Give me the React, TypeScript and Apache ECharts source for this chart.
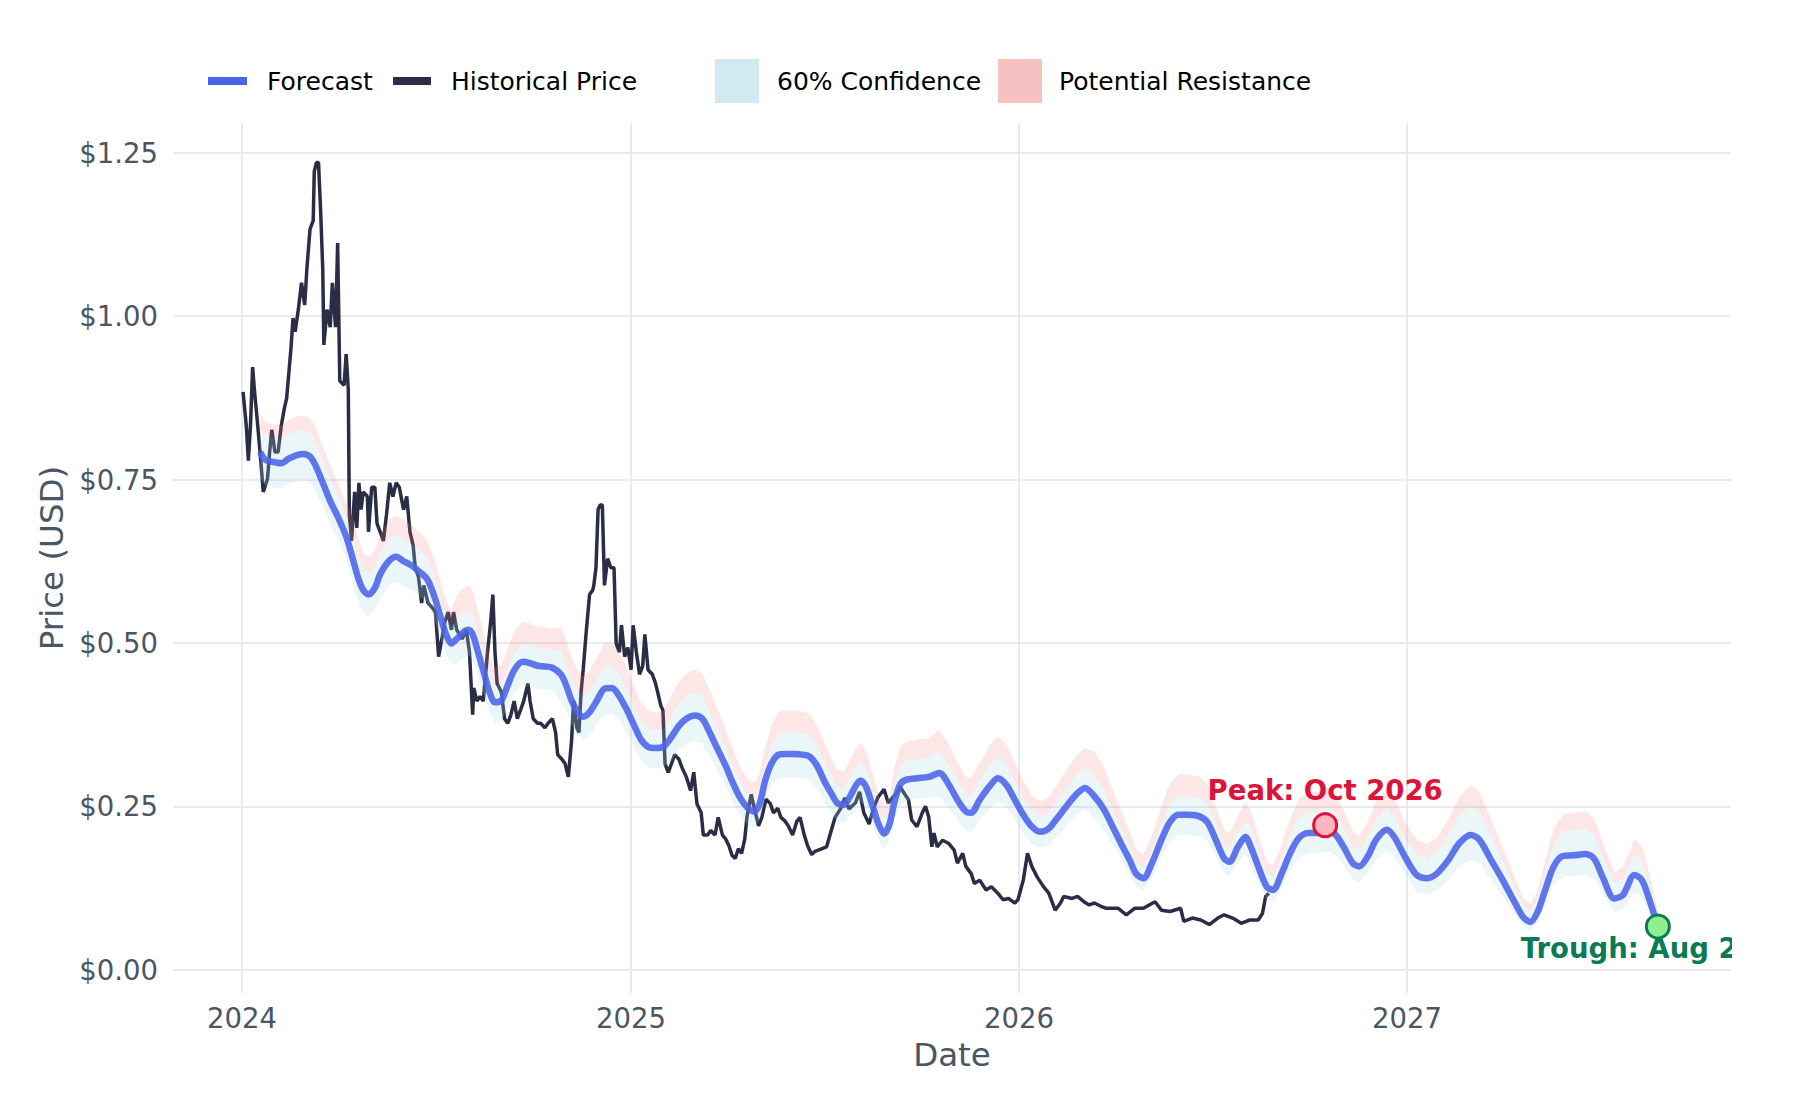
import React, { useEffect, useRef } from "react";
import * as echarts from "echarts";

// Day offsets are counted from 2024-01-01 (UTC)
const BASE_DATE = Date.UTC(2024, 0, 1);
const DAY_MS = 86400000;

const histDays = [
  1, 4, 6, 8, 10, 12, 14, 17, 20, 24, 26, 28, 31, 34, 37, 40, 42, 46, 48, 50, 53, 56, 59, 61, 64, 67, 68, 70, 72, 74, 76, 77, 80, 83, 85, 88, 90, 92, 96, 98, 100,
  101, 103, 106, 108, 110, 112, 114, 118, 119, 122, 125, 127, 130, 133, 136, 139, 142, 145, 148, 152, 155, 158, 161, 163, 166, 169, 171, 175, 179, 182, 185, 188, 191, 194, 197, 199,
  202, 207, 211, 214, 217, 218, 221, 224, 227, 231, 234, 236, 238, 240, 244, 247, 250, 253, 256, 259, 262, 265, 269, 271, 274, 278, 281, 285, 288, 292, 295, 297,
  301, 304, 307, 310, 312, 315, 317, 319, 321, 324, 327, 330, 331, 333, 335, 337, 339, 341, 344, 347, 350, 352, 355, 357, 360, 363, 366, 368, 371, 374, 377, 379, 382, 386, 389, 391, 394, 396, 398,
  401, 404, 407, 411, 414, 418, 422, 425, 428, 432, 434, 438, 441, 445, 448, 452, 455, 458, 461, 464, 467, 470, 473, 475, 479, 482, 486, 489, 493, 497, 500,
  504, 507, 511, 514, 518, 522, 525, 529, 532, 536, 539, 544, 550, 554, 558, 563, 567, 571, 577, 581, 585, 590, 594, 598, 604, 608, 612, 617,
  619, 627, 630, 635, 640, 643, 646, 649, 651, 654, 659, 665, 670, 673, 678, 681, 686, 689, 694, 700, 705, 711, 716, 721, 727, 730, 735, 739, 743, 748, 754, 759, 765, 770, 773,
  781, 786, 792, 797, 802, 808, 813, 824, 832, 840, 848, 859, 865, 873, 883, 886, 894, 902, 910, 918, 924, 932, 940, 948, 956, 960, 963, 966,
];
const histValues = [
  0.884, 0.833, 0.779, 0.833, 0.922, 0.881, 0.847, 0.792, 0.731, 0.751, 0.792, 0.826, 0.792, 0.792, 0.833, 0.86, 0.874, 0.949, 0.997, 0.976, 1.01, 1.051, 1.017, 1.071, 1.133, 1.146, 1.221, 1.235, 1.235, 1.16, 1.071, 0.956, 1.01, 0.983, 1.051, 0.983, 1.112, 0.901, 0.894, 0.942, 0.888,
  0.697, 0.656, 0.731, 0.676, 0.745, 0.704, 0.731, 0.724, 0.67, 0.738, 0.738, 0.683, 0.67, 0.656, 0.697, 0.745, 0.724, 0.745, 0.738, 0.704, 0.724, 0.67, 0.649, 0.615, 0.601, 0.561, 0.588, 0.561, 0.554, 0.547, 0.479, 0.506, 0.533, 0.547, 0.52, 0.547,
  0.52, 0.506, 0.52, 0.486, 0.39, 0.431, 0.411, 0.418, 0.411, 0.486, 0.533, 0.574, 0.486, 0.438, 0.425, 0.384, 0.377, 0.39, 0.411, 0.384, 0.397, 0.411, 0.438, 0.411, 0.384, 0.377, 0.377, 0.37, 0.377, 0.384, 0.363, 0.329,
  0.322, 0.315, 0.295, 0.349, 0.411, 0.37, 0.363, 0.425, 0.459, 0.52, 0.574, 0.581, 0.588, 0.615, 0.704, 0.711, 0.711, 0.588, 0.629, 0.615, 0.615, 0.499, 0.486, 0.527, 0.479, 0.493, 0.459, 0.527, 0.486, 0.452, 0.465, 0.513, 0.459, 0.452, 0.438, 0.425, 0.404, 0.397, 0.315,
  0.302, 0.315, 0.329, 0.322, 0.309, 0.295, 0.274, 0.302, 0.254, 0.24, 0.206, 0.206, 0.213, 0.206, 0.233, 0.206, 0.2, 0.19, 0.175, 0.17, 0.185, 0.178, 0.2, 0.233, 0.268, 0.247, 0.22, 0.233, 0.261, 0.254, 0.24,
  0.247, 0.233, 0.227, 0.22, 0.206, 0.227, 0.233, 0.206, 0.19, 0.176, 0.181, 0.184, 0.188, 0.211, 0.233, 0.246, 0.263, 0.246, 0.255, 0.272, 0.24, 0.223, 0.246, 0.263, 0.276, 0.255, 0.263, 0.272,
  0.28, 0.26, 0.229, 0.219, 0.24, 0.25, 0.234, 0.188, 0.209, 0.188, 0.198, 0.193, 0.183, 0.163, 0.178, 0.158, 0.147, 0.132, 0.137, 0.122, 0.127, 0.117, 0.107, 0.109, 0.102, 0.107, 0.137, 0.178, 0.158, 0.142, 0.127, 0.117, 0.091, 0.102, 0.112,
  0.109, 0.112, 0.104, 0.099, 0.102, 0.097, 0.094, 0.094, 0.084, 0.094, 0.094, 0.104, 0.091, 0.089, 0.094, 0.074, 0.079, 0.076, 0.069, 0.079, 0.084, 0.079, 0.071, 0.076, 0.076, 0.086, 0.112, 0.117,
];

const fcDays = [
  17, 22, 29, 37, 44, 51, 58, 64, 69, 76, 83, 91, 98,
  103, 109, 114, 119, 125, 130, 138, 145, 152, 159, 166, 174, 181, 186, 192, 197,
  202, 208, 213, 217, 222, 228, 233, 238, 244, 249, 256, 264, 271, 278, 285, 292,
  300, 305, 310, 316, 321, 327, 334, 341, 348, 354, 361, 368, 375, 382, 390, 397,
  404, 411, 419, 426, 433, 440, 447, 455, 462, 469, 476, 482, 487, 492, 498,
  505, 512, 519, 527, 534, 541, 548, 555, 560, 566, 572, 578, 582, 587, 593, 599, 604, 609, 614, 619, 624, 635, 646,
  656, 665, 673, 681, 686, 694, 703, 711, 719, 727, 735, 743, 751, 759, 767, 778, 786, 793,
  802, 811, 819, 827, 835, 841, 848, 856, 865, 873, 881, 889, 900, 908, 916, 924, 929, 937, 944,
  949, 956, 964, 970, 978, 986, 994, 1003, 1013, 1021, 1029, 1037, 1045, 1051, 1059, 1067, 1077, 1084, 1094,
  1105, 1115, 1124, 1135, 1145, 1156, 1164, 1175, 1186, 1197, 1205, 1212, 1219, 1226, 1234, 1243, 1253, 1264, 1272, 1280, 1291, 1299, 1310, 1317, 1324, 1332,
];
const fcValues = [
  0.792, 0.78, 0.777, 0.775, 0.782, 0.787, 0.789, 0.785, 0.772, 0.745, 0.717, 0.69, 0.663,
  0.636, 0.601, 0.581, 0.574, 0.584, 0.605, 0.625, 0.632, 0.625, 0.619, 0.61, 0.598, 0.571, 0.544, 0.513, 0.499,
  0.506, 0.516, 0.52, 0.513, 0.486, 0.452, 0.424, 0.409, 0.412, 0.431, 0.458, 0.471, 0.469, 0.465, 0.464, 0.462,
  0.452, 0.435, 0.412, 0.394, 0.387, 0.394, 0.412, 0.43, 0.431, 0.421, 0.401, 0.377, 0.353, 0.341, 0.339, 0.342,
  0.356, 0.373, 0.385, 0.389, 0.384, 0.363, 0.339, 0.312, 0.285, 0.262, 0.247, 0.242, 0.254, 0.288, 0.315,
  0.329, 0.33, 0.33, 0.329, 0.326, 0.312, 0.288, 0.268, 0.255, 0.252, 0.265, 0.283, 0.289, 0.28, 0.252, 0.222, 0.208, 0.222, 0.258, 0.283, 0.29, 0.293, 0.295,
  0.301, 0.283, 0.26, 0.242, 0.24, 0.26, 0.28, 0.293, 0.283, 0.26, 0.237, 0.219, 0.211, 0.216, 0.232, 0.255, 0.27, 0.278,
  0.265, 0.245, 0.219, 0.193, 0.168, 0.147, 0.14, 0.163, 0.199, 0.226, 0.237, 0.237, 0.235, 0.226, 0.199, 0.17, 0.165, 0.188, 0.203,
  0.188, 0.158, 0.127, 0.122, 0.147, 0.178, 0.201, 0.209, 0.209, 0.214, 0.206, 0.186, 0.163, 0.158, 0.173, 0.199, 0.214, 0.203, 0.173,
  0.145, 0.14, 0.147, 0.168, 0.193, 0.206, 0.199, 0.168, 0.137, 0.104, 0.081, 0.073, 0.089, 0.122, 0.158, 0.174, 0.175, 0.177, 0.17, 0.142, 0.109, 0.114, 0.145, 0.137, 0.107, 0.066,
];
const confLow = [
  0.752, 0.741, 0.738, 0.736, 0.743, 0.748, 0.75, 0.746, 0.733, 0.708, 0.681, 0.656, 0.63,
  0.598, 0.565, 0.546, 0.54, 0.549, 0.569, 0.588, 0.594, 0.588, 0.582, 0.573, 0.562, 0.537, 0.511, 0.482, 0.469,
  0.468, 0.477, 0.481, 0.475, 0.45, 0.418, 0.392, 0.378, 0.381, 0.399, 0.424, 0.436, 0.434, 0.43, 0.429, 0.427,
  0.411, 0.396, 0.375, 0.359, 0.352, 0.359, 0.375, 0.391, 0.392, 0.383, 0.365, 0.343, 0.321, 0.31, 0.308, 0.311,
  0.32, 0.336, 0.347, 0.35, 0.346, 0.327, 0.305, 0.281, 0.257, 0.236, 0.222, 0.218, 0.229, 0.259, 0.284,
  0.293, 0.294, 0.294, 0.293, 0.29, 0.278, 0.256, 0.239, 0.227, 0.224, 0.236, 0.252, 0.257, 0.249, 0.224, 0.198, 0.185, 0.198, 0.23, 0.252, 0.258, 0.261, 0.263,
  0.265, 0.249, 0.229, 0.213, 0.211, 0.229, 0.246, 0.258, 0.249, 0.229, 0.209, 0.193, 0.186, 0.19, 0.204, 0.224, 0.238, 0.245,
  0.231, 0.213, 0.191, 0.168, 0.146, 0.128, 0.122, 0.142, 0.173, 0.197, 0.206, 0.206, 0.204, 0.197, 0.173, 0.148, 0.144, 0.164, 0.177,
  0.16, 0.134, 0.108, 0.104, 0.125, 0.151, 0.171, 0.178, 0.178, 0.182, 0.175, 0.158, 0.139, 0.134, 0.147, 0.169, 0.182, 0.173, 0.147,
  0.119, 0.115, 0.121, 0.138, 0.158, 0.169, 0.163, 0.138, 0.112, 0.085, 0.066, 0.06, 0.073, 0.1, 0.13, 0.143, 0.144, 0.145, 0.139, 0.116, 0.089, 0.093, 0.119, 0.112, 0.088, 0.054,
];
const confHigh = [
  0.829, 0.817, 0.814, 0.811, 0.819, 0.824, 0.826, 0.822, 0.808, 0.78, 0.751, 0.722, 0.694,
  0.671, 0.634, 0.613, 0.606, 0.616, 0.638, 0.659, 0.667, 0.659, 0.653, 0.644, 0.631, 0.602, 0.574, 0.541, 0.526,
  0.536, 0.547, 0.551, 0.544, 0.515, 0.479, 0.449, 0.434, 0.437, 0.457, 0.485, 0.499, 0.497, 0.493, 0.492, 0.49,
  0.488, 0.47, 0.445, 0.426, 0.418, 0.426, 0.445, 0.464, 0.465, 0.455, 0.433, 0.407, 0.381, 0.368, 0.366, 0.369,
  0.388, 0.407, 0.42, 0.424, 0.419, 0.396, 0.37, 0.34, 0.311, 0.286, 0.269, 0.264, 0.277, 0.314, 0.343,
  0.362, 0.363, 0.363, 0.362, 0.359, 0.343, 0.317, 0.295, 0.281, 0.277, 0.292, 0.311, 0.318, 0.308, 0.277, 0.244, 0.229, 0.244, 0.284, 0.311, 0.319, 0.322, 0.325,
  0.334, 0.314, 0.289, 0.269, 0.266, 0.289, 0.311, 0.325, 0.314, 0.289, 0.263, 0.243, 0.234, 0.24, 0.258, 0.283, 0.3, 0.309,
  0.297, 0.274, 0.245, 0.216, 0.188, 0.165, 0.157, 0.183, 0.223, 0.253, 0.265, 0.265, 0.263, 0.253, 0.223, 0.19, 0.185, 0.211, 0.227,
  0.218, 0.183, 0.147, 0.142, 0.171, 0.206, 0.233, 0.242, 0.242, 0.248, 0.239, 0.216, 0.189, 0.183, 0.201, 0.231, 0.248, 0.235, 0.201,
  0.177, 0.171, 0.179, 0.205, 0.235, 0.251, 0.243, 0.205, 0.167, 0.127, 0.099, 0.089, 0.109, 0.149, 0.193, 0.212, 0.214, 0.216, 0.207, 0.173, 0.133, 0.139, 0.177, 0.167, 0.131, 0.081,
];
const resHigh = [
  0.851, 0.839, 0.835, 0.833, 0.841, 0.846, 0.848, 0.844, 0.83, 0.801, 0.771, 0.742, 0.713,
  0.7, 0.661, 0.639, 0.631, 0.642, 0.666, 0.688, 0.695, 0.688, 0.681, 0.671, 0.658, 0.628, 0.598, 0.564, 0.549,
  0.572, 0.583, 0.588, 0.58, 0.549, 0.511, 0.479, 0.462, 0.466, 0.487, 0.518, 0.532, 0.53, 0.525, 0.524, 0.522,
  0.524, 0.505, 0.478, 0.457, 0.449, 0.457, 0.478, 0.499, 0.5, 0.488, 0.465, 0.437, 0.409, 0.396, 0.393, 0.397,
  0.42, 0.44, 0.454, 0.459, 0.453, 0.428, 0.4, 0.368, 0.336, 0.309, 0.291, 0.286, 0.3, 0.34, 0.372,
  0.395, 0.396, 0.396, 0.395, 0.391, 0.374, 0.346, 0.322, 0.306, 0.302, 0.318, 0.34, 0.347, 0.336, 0.302, 0.266, 0.25, 0.266, 0.31, 0.34, 0.348, 0.352, 0.354,
  0.367, 0.345, 0.317, 0.295, 0.293, 0.317, 0.342, 0.357, 0.345, 0.317, 0.289, 0.267, 0.257, 0.264, 0.283, 0.311, 0.329, 0.339,
  0.334, 0.309, 0.276, 0.243, 0.212, 0.185, 0.176, 0.205, 0.251, 0.285, 0.299, 0.299, 0.296, 0.285, 0.251, 0.214, 0.208, 0.237, 0.256,
  0.244, 0.205, 0.165, 0.159, 0.191, 0.231, 0.261, 0.272, 0.272, 0.278, 0.268, 0.242, 0.212, 0.205, 0.225, 0.259, 0.278, 0.264, 0.225,
  0.199, 0.192, 0.201, 0.23, 0.264, 0.282, 0.273, 0.23, 0.188, 0.142, 0.111, 0.1, 0.122, 0.167, 0.216, 0.238, 0.24, 0.242, 0.233, 0.195, 0.149, 0.156, 0.199, 0.188, 0.147, 0.09,
];

const peakDay = 1019;
const peakValue = 0.221;
const peakLabel = "Peak: Oct 2026";
const troughDay = 1332;
const troughValue = 0.066;
const troughLabel = "Trough: Aug 2027";

const yTicks = [0, 0.25, 0.5, 0.75, 1.0, 1.25];
const xTickYears = [2024, 2025, 2026, 2027];

const FONT = "DejaVu Sans";
const AXIS_COLOR = "#4b5563";

const toTime = (d: number) => BASE_DATE + d * DAY_MS;

function bandSeries(name: string, low: number[], high: number[], fill: string, legendColor: string) {
  return {
    name,
    type: "custom",
    coordinateSystem: "cartesian2d",
    data: [[toTime(fcDays[0]), low[0]]],
    encode: { x: 0, y: 1 },
    itemStyle: { color: legendColor },
    clip: true,
    silent: true,
    z: 3,
    renderItem: (_params: any, api: any) => {
      const pts: number[][] = [];
      for (let i = 0; i < fcDays.length; i++) pts.push(api.coord([toTime(fcDays[i]), high[i]]));
      for (let i = fcDays.length - 1; i >= 0; i--) pts.push(api.coord([toTime(fcDays[i]), low[i]]));
      return {
        type: "polygon",
        shape: { points: pts },
        style: { fill, stroke: "none" },
        silent: true,
      };
    },
  };
}

export default function App() {
  const ref = useRef<HTMLDivElement>(null);

  useEffect(() => {
    if (!ref.current) return;
    const chart = echarts.init(ref.current, null, { renderer: "svg" });

    const hist = histDays.map((d, i) => [toTime(d), histValues[i]]);
    const fc = fcDays.map((d, i) => [toTime(d), fcValues[i]]);
    const xTicks = xTickYears.map((y) => Date.UTC(y, 0, 1));

    const legendText = { fontFamily: FONT, fontSize: 25, color: "#000", lineHeight: 44 };

    const option: any = {
      animation: false,
      backgroundColor: "#fff",
      textStyle: { fontFamily: FONT },
      grid: { left: 173, right: 69, top: 123, bottom: 107, containLabel: false },
      legend: [
        {
          data: [{ name: "Forecast", icon: "rect", itemStyle: { color: "#4a63e8", borderWidth: 0 } }],
          left: 208, top: 59, padding: 0, itemWidth: 39, itemHeight: 8, selectedMode: false,
          textStyle: { ...legendText, padding: [0, 0, 0, 15] },
        },
        {
          data: [{ name: "Historical Price", icon: "rect", itemStyle: { color: "#2a2d45", borderWidth: 0 } }],
          left: 393, top: 59, padding: 0, itemWidth: 38, itemHeight: 8, selectedMode: false,
          textStyle: { ...legendText, padding: [0, 0, 0, 15] },
        },
        {
          data: [{ name: "60% Confidence", icon: "rect", itemStyle: { color: "#d3e9f1", borderWidth: 0 } }],
          left: 715, top: 59, padding: 0, itemWidth: 44, itemHeight: 44, selectedMode: false,
          textStyle: { ...legendText, padding: [0, 0, 0, 13] },
        },
        {
          data: [{ name: "Potential Resistance", icon: "rect", itemStyle: { color: "#f8c1c1", borderWidth: 0 } }],
          left: 998, top: 59, padding: 0, itemWidth: 44, itemHeight: 44, selectedMode: false,
          textStyle: { ...legendText, padding: [0, 0, 0, 12] },
        },
      ],
      xAxis: {
        type: "value",
        min: toTime(-64.9),
        max: toTime(1400.8),
        name: "Date",
        nameLocation: "middle",
        nameGap: 45,
        nameTextStyle: { fontFamily: FONT, fontSize: 32.5, color: AXIS_COLOR },
        axisLine: { show: false },
        axisTick: { show: false, customValues: xTicks },
        axisLabel: {
          customValues: xTicks,
          formatter: (v: number) => String(new Date(v).getUTCFullYear()),
          fontFamily: FONT,
          fontSize: 27.5,
          color: AXIS_COLOR,
          margin: 11,
        },
        splitLine: { show: true, lineStyle: { color: "#e8eaf0", width: 2 } },
      },
      yAxis: {
        type: "value",
        min: -0.0357,
        max: 1.2955,
        name: "Price (USD)",
        nameLocation: "middle",
        nameGap: 100,
        nameTextStyle: { fontFamily: FONT, fontSize: 32.5, color: AXIS_COLOR },
        axisLine: { show: false },
        axisTick: { show: false, customValues: yTicks },
        axisLabel: {
          customValues: yTicks,
          formatter: (v: number) => "$" + v.toFixed(2),
          fontFamily: FONT,
          fontSize: 27.5,
          color: AXIS_COLOR,
          margin: 15,
        },
        splitLine: { show: true, lineStyle: { color: "#e8eaf0", width: 2 } },
      },
      graphic: [
        {
          type: "rect",
          z: 100,
          shape: { x: 1732, y: 880, width: 68, height: 110 },
          style: { fill: "#fff" },
          silent: true,
        },
      ],
      series: [
        {
          name: "Historical Price",
          type: "line",
          data: hist,
          symbol: "none",
          lineStyle: { color: "#2a2d45", width: 3.5 },
          itemStyle: { color: "#2a2d45" },
          z: 2,
        },
        bandSeries("60% Confidence", confLow, confHigh, "rgba(173,216,230,0.24)", "#d3e9f1"),
        bandSeries("Potential Resistance", confHigh, resHigh, "rgba(240,128,128,0.2)", "#f8c1c1"),
        {
          name: "Forecast",
          type: "line",
          data: fc,
          symbol: "none",
          smooth: 0.3,
          lineStyle: { color: "#4a63e8", width: 6.5, opacity: 0.88 },
          itemStyle: { color: "#4a63e8" },
          z: 4,
        },
        {
          name: "Peak",
          type: "scatter",
          data: [[toTime(peakDay), peakValue]],
          symbolSize: 23,
          itemStyle: { color: "#ffb6c1", borderColor: "#dc143c", borderWidth: 3, opacity: 1 },
          label: {
            show: true,
            formatter: peakLabel,
            position: "top",
            distance: 8,
            color: "#dc143c",
            fontWeight: "bold",
            fontFamily: FONT,
            fontSize: 27.5,
          },
          z: 5,
        },
        {
          name: "Trough",
          type: "scatter",
          data: [[toTime(troughDay), troughValue]],
          symbolSize: 23,
          itemStyle: { color: "#90ee90", borderColor: "#0b7a55", borderWidth: 3, opacity: 1 },
          label: {
            show: true,
            formatter: troughLabel,
            position: "bottom",
            distance: -6,
            color: "#0b7a55",
            fontWeight: "bold",
            fontFamily: FONT,
            fontSize: 27.5,
          },
          z: 5,
        },
      ],
    };

    chart.setOption(option);
    return () => chart.dispose();
  }, []);

  return (
    <div
      ref={ref}
      style={{ position: "absolute", left: 0, top: 0, width: 1800, height: 1100, background: "#fff" }}
    />
  );
}
